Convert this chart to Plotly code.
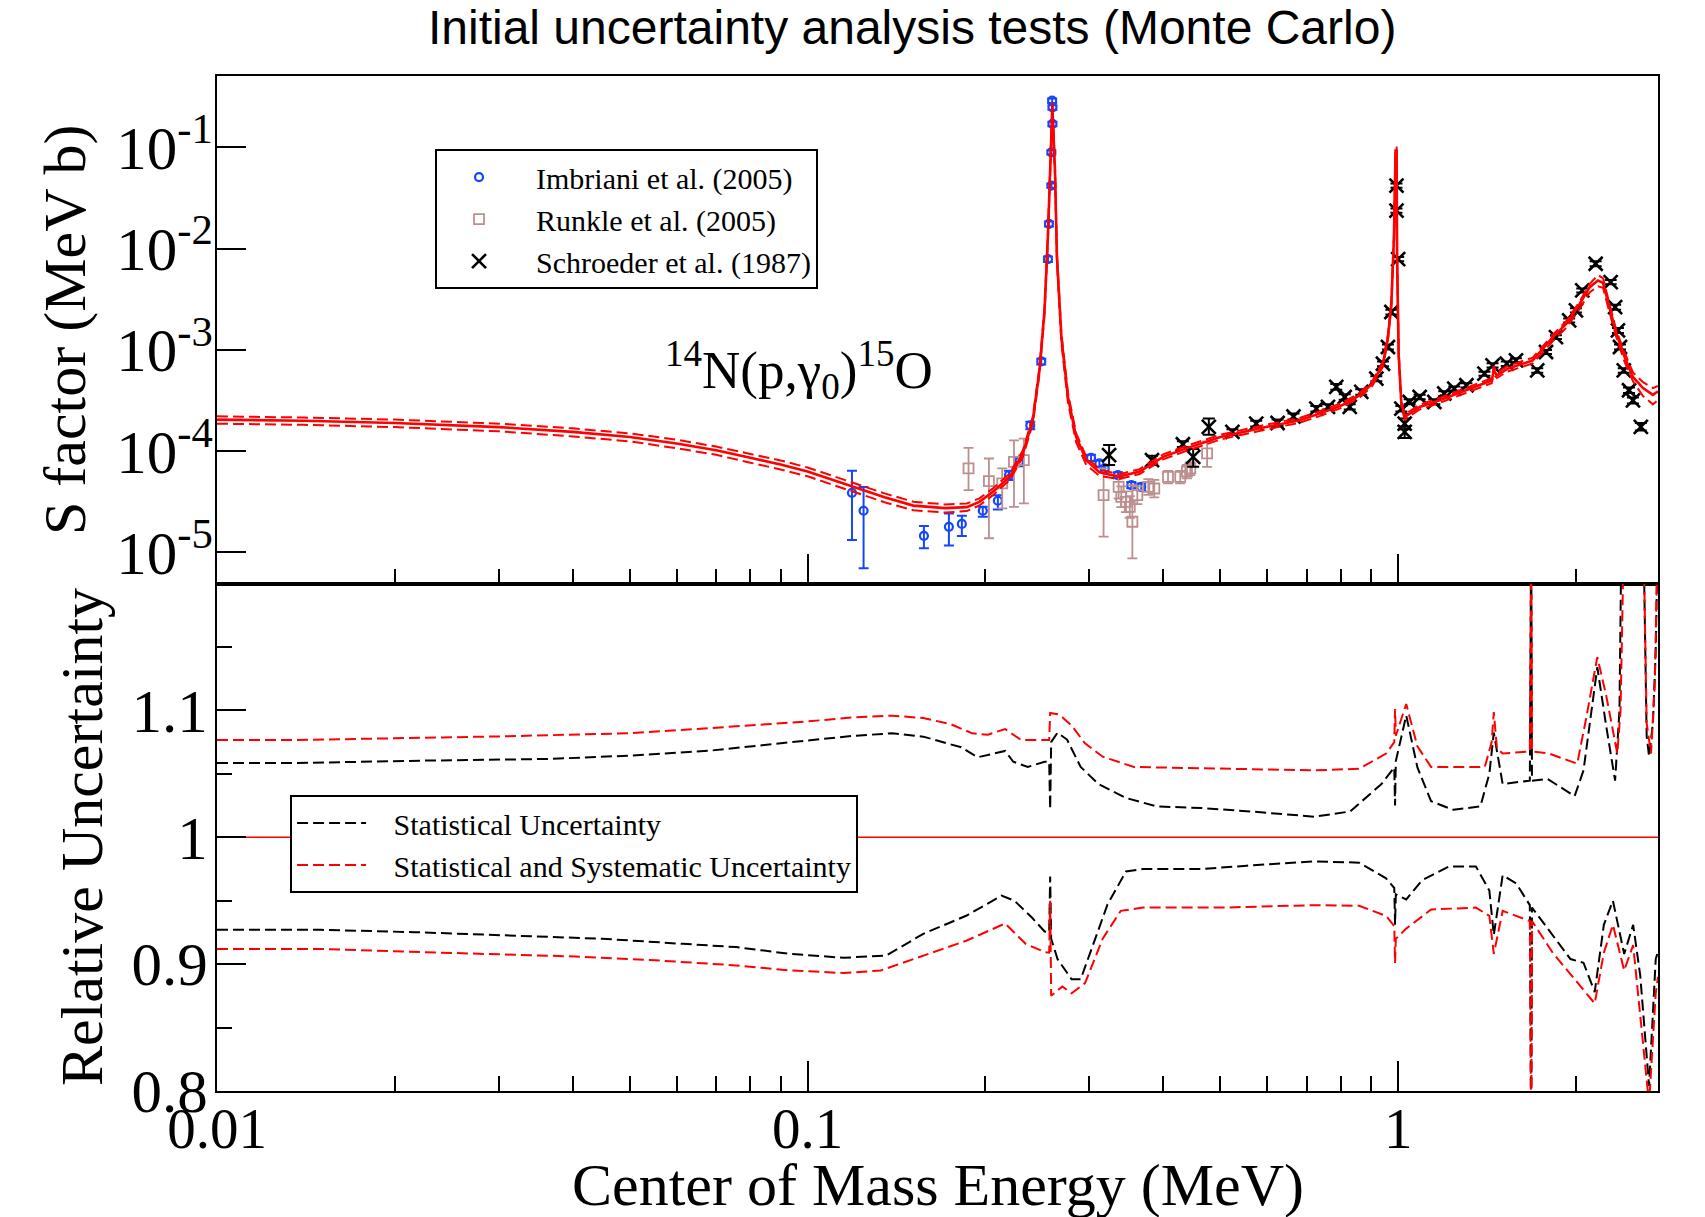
import plotly.graph_objects as go

# ---------------- data ----------------
# R-matrix fit (top panel): energy (MeV), S factor (MeV b), upper / lower band
E_fit = [0.010, 0.014, 0.020, 0.030, 0.040, 0.050, 0.060, 0.070, 0.080, 0.090,
         0.100, 0.1185, 0.135, 0.151, 0.171, 0.186, 0.1954, 0.206, 0.220, 0.2315,
         0.2406, 0.247, 0.2519, 0.2552, 0.2576, 0.2597, 0.2624, 0.2644, 0.269, 0.276,
         0.285, 0.2965, 0.312, 0.3365, 0.365, 0.400, 0.4366, 0.500, 0.600, 0.681,
         0.736, 0.803, 0.8605, 0.904, 0.9425, 0.9611, 0.9739, 0.9838, 0.990, 0.994,
         0.996, 1.002, 1.0126, 1.0257, 1.0459, 1.0875, 1.1755, 1.305, 1.410, 1.440,
         1.452, 1.470, 1.530, 1.690, 1.829, 1.927, 2.030, 2.110, 2.180, 2.223,
         2.280, 2.342, 2.418, 2.498, 2.598, 2.700, 2.754]
S_fit = [2.05e-4, 2.00e-4, 1.90e-4, 1.73e-4, 1.55e-4, 1.38e-4, 1.19e-4, 1.02e-4, 8.6e-5, 7.4e-5,
         6.3e-5, 4.5e-5, 3.5e-5, 2.9e-5, 2.74e-5, 2.8e-5, 3.16e-5, 3.97e-5, 5.58e-5, 9.5e-5,
         2.02e-4, 6.3e-4, 2.46e-3, 1.3e-2, 5.9e-2, 0.26, 5.9e-2, 8.2e-3, 1.34e-3, 3.43e-4,
         1.38e-4, 8.15e-5, 6.2e-5, 5.6e-5, 6.3e-5, 8.8e-5, 1.06e-4, 1.38e-4, 1.74e-4, 2.02e-4,
         2.35e-4, 2.84e-4, 3.57e-4, 4.65e-4, 7.3e-4, 1.34e-3, 2.86e-3, 1.3e-2, 9.3e-2, 9.3e-2,
         8.0e-3, 9.0e-4, 2.95e-4, 2.19e-4, 2.35e-4, 2.73e-4, 3.18e-4, 4.0e-4, 4.82e-4, 5.0e-4,
         6.3e-4, 5.6e-4, 6.5e-4, 7.89e-4, 1.34e-3, 1.82e-3, 2.86e-3, 4.17e-3, 4.85e-3, 4.6e-3,
         2.6e-3, 1.45e-3, 8.5e-4, 5.41e-4, 4.2e-4, 3.6e-4, 3.9e-4]
S_fit_hi = [2.21e-4, 2.15e-4, 2.05e-4, 1.87e-4, 1.68e-4, 1.50e-4, 1.30e-4, 1.11e-4, 9.4e-5, 8.1e-5,
            6.9e-5, 4.92e-5, 3.83e-5, 3.17e-5, 2.98e-5, 3.04e-5, 3.42e-5, 4.29e-5, 6.05e-5, 1.02e-4,
            2.17e-4, 6.78e-4, 2.65e-3, 1.40e-2, 6.4e-2, 0.28, 6.4e-2, 8.9e-3, 1.46e-3, 3.75e-4,
            1.50e-4, 8.8e-5, 6.6e-5, 5.9e-5, 6.65e-5, 9.3e-5, 1.12e-4, 1.455e-4, 1.835e-4, 2.13e-4,
            2.48e-4, 3.0e-4, 3.76e-4, 4.9e-4, 7.75e-4, 1.42e-3, 3.03e-3, 1.4e-2, 0.1, 0.1,
            8.6e-3, 9.8e-4, 3.15e-4, 2.32e-4, 2.48e-4, 2.88e-4, 3.36e-4, 4.22e-4, 5.08e-4, 5.25e-4,
            6.9e-4, 5.95e-4, 6.9e-4, 8.4e-4, 1.42e-3, 1.93e-3, 3.02e-3, 4.5e-3, 5.5e-3, 5.1e-3,
            2.85e-3, 1.55e-3, 9.4e-4, 6.0e-4, 4.8e-4, 4.2e-4, 4.4e-4]
S_fit_lo = [1.87e-4, 1.82e-4, 1.73e-4, 1.57e-4, 1.40e-4, 1.25e-4, 1.07e-4, 9.2e-5, 7.7e-5, 6.6e-5,
            5.65e-5, 4.02e-5, 3.13e-5, 2.61e-5, 2.48e-5, 2.56e-5, 2.91e-5, 3.68e-5, 5.2e-5, 8.75e-5,
            1.86e-4, 5.8e-4, 2.25e-3, 1.19e-2, 5.3e-2, 0.235, 5.2e-2, 7.3e-3, 1.18e-3, 3.02e-4,
            1.22e-4, 7.3e-5, 5.7e-5, 5.3e-5, 5.95e-5, 8.3e-5, 1.0e-4, 1.305e-4, 1.645e-4, 1.91e-4,
            2.22e-4, 2.69e-4, 3.38e-4, 4.4e-4, 6.85e-4, 1.26e-3, 2.68e-3, 1.2e-2, 0.086, 0.086,
            7.4e-3, 8.4e-4, 2.75e-4, 2.06e-4, 2.22e-4, 2.58e-4, 3.0e-4, 3.78e-4, 4.55e-4, 4.7e-4,
            5.7e-4, 5.28e-4, 6.1e-4, 7.35e-4, 1.23e-3, 1.66e-3, 2.55e-3, 3.7e-3, 4.25e-3, 4.1e-3,
            2.35e-3, 1.32e-3, 7.6e-4, 4.9e-4, 3.5e-4, 2.9e-4, 3.2e-4]

# Imbriani et al. (2005): E, S, upper error end, lower error end
E_imb = [0.1189, 0.1244, 0.1574, 0.1735, 0.1825, 0.198, 0.210, 0.2193, 0.228, 0.2383,
         0.2487, 0.2553, 0.2563, 0.2587, 0.2587, 0.2598, 0.2598, 0.2595,
         0.302, 0.312, 0.3185, 0.3354, 0.3533, 0.3673]
S_imb = [3.88e-5, 2.58e-5, 1.46e-5, 1.79e-5, 1.91e-5, 2.58e-5, 3.24e-5, 5.8e-5, 7.85e-5, 1.8e-4,
         7.7e-4, 7.9e-3, 0.0176, 0.042, 0.0895, 0.171, 0.249, 0.29,
         8.6e-5, 7.57e-5, 6.75e-5, 5.8e-5, 4.62e-5, 4.45e-5]
S_imb_hi = [6.4e-5, 4.44e-5, 1.82e-5, 2.43e-5, 2.30e-5, 2.82e-5, 3.68e-5, 6.4e-5, 8.6e-5, 1.95e-4,
            8.2e-4, 8.4e-3, 0.0186, 0.044, 0.094, 0.18, 0.262, 0.305,
            9.2e-5, 8.1e-5, 7.2e-5, 6.2e-5, 4.95e-5, 4.8e-5]
S_imb_lo = [1.33e-5, 6.96e-6, 1.10e-5, 1.17e-5, 1.45e-5, 2.25e-5, 2.66e-5, 5.2e-5, 7.1e-5, 1.65e-4,
            7.2e-4, 7.4e-3, 0.0166, 0.040, 0.085, 0.162, 0.236, 0.275,
            8.0e-5, 7.0e-5, 6.3e-5, 5.4e-5, 4.3e-5, 4.1e-5]

# Runkle et al. (2005)
E_run = [0.1873, 0.2028, 0.2136, 0.2236, 0.2324, 0.3171, 0.3363, 0.3398, 0.346, 0.3512,
         0.3548, 0.3617, 0.3775, 0.3864, 0.4077, 0.4276, 0.4389, 0.4447, 0.4748]
S_run = [6.75e-5, 5.06e-5, 4.8e-5, 7.85e-5, 8.15e-5, 3.68e-5, 4.45e-5, 3.54e-5, 3.16e-5, 2.82e-5,
         2.01e-5, 3.68e-5, 4.45e-5, 4.28e-5, 5.58e-5, 5.58e-5, 6.3e-5, 6.75e-5, 9.5e-5]
S_run_hi = [1.08e-4, 8.47e-5, 6.75e-5, 1.28e-4, 1.33e-4, 6.75e-5, 5.8e-5, 4.5e-5, 4.0e-5, 3.6e-5,
            4.62e-5, 4.5e-5, 5.3e-5, 5.2e-5, 6.4e-5, 6.4e-5, 7.3e-5, 7.8e-5, 1.25e-4]
S_run_lo = [4.12e-5, 1.38e-5, 2.72e-5, 2.82e-5, 3.05e-5, 1.43e-5, 3.41e-5, 2.8e-5, 2.5e-5, 2.2e-5,
            8.75e-6, 3.0e-5, 3.7e-5, 3.5e-5, 4.8e-5, 4.8e-5, 5.4e-5, 5.8e-5, 7.0e-5]

# Schroeder et al. (1987)
E_sch = [0.324, 0.383, 0.432, 0.4497, 0.478, 0.524, 0.575, 0.625, 0.665, 0.727,
         0.7606, 0.7857, 0.812, 0.828, 0.866, 0.9185, 0.9425, 0.961, 0.974, 0.9935,
         0.9935, 1.000, 1.0126, 1.0257, 1.0257, 1.0459, 1.0875, 1.1515, 1.197, 1.2446,
         1.305, 1.400, 1.445, 1.5275, 1.583, 1.720, 1.780, 1.850, 1.948, 2.000,
         2.050, 2.160, 2.290, 2.330, 2.356, 2.375, 2.410, 2.460, 2.498, 2.576]
S_sch = [9.14e-5, 8.15e-5, 1.17e-4, 8.8e-5, 1.74e-4, 1.55e-4, 1.87e-4, 1.9e-4, 2.2e-4, 2.63e-4,
         2.74e-4, 4.31e-4, 3.43e-4, 2.74e-4, 3.85e-4, 5.21e-4, 7.3e-4, 1.07e-3, 2.37e-3, 0.042,
         0.0238, 7.9e-3, 2.63e-4, 1.87e-4, 1.55e-4, 3.06e-4, 3.43e-4, 3.06e-4, 3.71e-4, 4.15e-4,
         4.48e-4, 5.83e-4, 7.05e-4, 7.33e-4, 7.89e-4, 6.29e-4, 9.55e-4, 1.34e-3, 1.96e-3, 2.46e-3,
         3.87e-3, 7.1e-3, 4.68e-3, 2.65e-3, 1.56e-3, 1.07e-3, 6.29e-4, 4.0e-4, 3.18e-4, 1.74e-4]
S_sch_hi = [1.15e-4, 9.0e-5, 1.25e-4, 1.05e-4, 2.1e-4, 1.65e-4, 2.0e-4, 2.05e-4, 2.35e-4, 2.8e-4,
            2.9e-4, 4.6e-4, 3.65e-4, 2.9e-4, 4.1e-4, 5.5e-4, 7.7e-4, 1.13e-3, 2.5e-3, 0.044,
            0.025, 8.3e-3, 2.8e-4, 2.1e-4, 1.75e-4, 3.25e-4, 3.6e-4, 3.25e-4, 3.9e-4, 4.35e-4,
            4.7e-4, 6.1e-4, 7.4e-4, 7.7e-4, 8.3e-4, 6.6e-4, 1.0e-3, 1.4e-3, 2.05e-3, 2.58e-3,
            4.05e-3, 7.5e-3, 4.9e-3, 2.8e-3, 1.65e-3, 1.13e-3, 6.6e-4, 4.25e-4, 3.4e-4, 1.9e-4]
S_sch_lo = [7.3e-5, 7.3e-5, 1.1e-4, 7.0e-5, 1.45e-4, 1.45e-4, 1.75e-4, 1.78e-4, 2.05e-4, 2.47e-4,
            2.58e-4, 4.05e-4, 3.22e-4, 2.58e-4, 3.6e-4, 4.9e-4, 6.9e-4, 1.01e-3, 2.24e-3, 0.040,
            0.0226, 7.5e-3, 2.46e-4, 1.65e-4, 1.35e-4, 2.9e-4, 3.25e-4, 2.9e-4, 3.5e-4, 3.95e-4,
            4.25e-4, 5.55e-4, 6.7e-4, 6.95e-4, 7.5e-4, 5.95e-4, 9.1e-4, 1.28e-3, 1.87e-3, 2.34e-3,
            3.7e-3, 6.7e-3, 4.45e-3, 2.5e-3, 1.47e-3, 1.01e-3, 5.95e-4, 3.75e-4, 2.95e-4, 1.6e-4]

# Relative uncertainty (bottom panel)
E_unity = [0.010, 2.754]
R_unity = [1.0, 1.0]

E_stat_up = [0.010, 0.0135, 0.0225, 0.0364, 0.0498, 0.0682, 0.0933, 0.120, 0.139, 0.157,
             0.182, 0.194, 0.216, 0.223, 0.236, 0.252, 0.2565, 0.2575, 0.2585, 0.265,
             0.275, 0.290, 0.311, 0.346, 0.390, 0.465, 0.564, 0.721, 0.829, 0.937,
             0.985, 0.988, 0.991, 1.032, 1.078, 1.137, 1.240, 1.378, 1.427, 1.452,
             1.503, 1.671, 1.680, 1.685, 1.790, 1.922, 1.990, 2.060, 2.174, 2.250,
             2.330, 2.370, 2.390, 2.600, 2.635, 2.660, 2.700, 2.730, 2.754]
R_stat_up = [1.0585, 1.0585, 1.0604, 1.0617, 1.0643, 1.0682, 1.0748, 1.080, 1.0819, 1.0793,
             1.0709, 1.063, 1.068, 1.0595, 1.0554, 1.0595, 1.0595, 1.022, 1.075, 1.0824,
             1.077, 1.0554, 1.0419, 1.031, 1.0243, 1.023, 1.0203, 1.0162, 1.0203, 1.0419,
             1.055, 1.025, 1.060, 1.096, 1.055, 1.0284, 1.0216, 1.0243, 1.050, 1.0824,
             1.042, 1.0446, 1.25, 1.0446, 1.046, 1.0365, 1.0324, 1.0527, 1.134, 1.088,
             1.0446, 1.10, 1.25, 1.25, 1.08, 1.0635, 1.09, 1.147, 1.25]

E_tot_up = [0.010, 0.0135, 0.0301, 0.0498, 0.0757, 0.100, 0.120, 0.139, 0.157, 0.175,
            0.190, 0.202, 0.216, 0.230, 0.252, 0.2565, 0.2575, 0.265, 0.270, 0.280,
            0.295, 0.316, 0.357, 0.5075, 0.721, 0.859, 0.954, 0.985, 0.988, 0.991,
            1.032, 1.078, 1.137, 1.402, 1.440, 1.452, 1.470, 1.503, 1.671, 1.680,
            1.685, 1.800, 1.922, 2.010, 2.080, 2.174, 2.250, 2.350, 2.380, 2.414,
            2.600, 2.635, 2.680, 2.720, 2.754]
R_tot_up = [1.0766, 1.0766, 1.0795, 1.0819, 1.0874, 1.0913, 1.0945, 1.0958, 1.094, 1.089,
            1.0819, 1.0808, 1.0853, 1.0766, 1.0766, 1.0766, 1.098, 1.097, 1.0946, 1.088,
            1.074, 1.0635, 1.0554, 1.054, 1.0527, 1.054, 1.066, 1.075, 1.101, 1.080,
            1.105, 1.0716, 1.0554, 1.0554, 1.075, 1.0986, 1.070, 1.066, 1.0676, 1.25,
            1.0676, 1.066, 1.061, 1.058, 1.093, 1.142, 1.112, 1.066, 1.10, 1.25,
            1.25, 1.09, 1.066, 1.12, 1.25]

E_stat_lo = [0.010, 0.0150, 0.0216, 0.0314, 0.0449, 0.0615, 0.0757, 0.0933, 0.115, 0.136,
             0.157, 0.186, 0.213, 0.224, 0.240, 0.252, 0.2565, 0.2575, 0.2585, 0.265,
             0.280, 0.290, 0.306, 0.322, 0.346, 0.370, 0.465, 0.554, 0.721, 0.859,
             0.954, 0.985, 0.988, 0.991, 1.032, 1.097, 1.219, 1.354, 1.427, 1.452,
             1.503, 1.585, 1.671, 1.680, 1.685, 1.827, 1.958, 2.060, 2.152, 2.230,
             2.310, 2.414, 2.500, 2.570, 2.660, 2.730, 2.754]
R_stat_lo = [0.927, 0.927, 0.9252, 0.9226, 0.920, 0.916, 0.9134, 0.9081, 0.905, 0.9068,
             0.9239, 0.9383, 0.954, 0.950, 0.9365, 0.9257, 0.925, 0.969, 0.920, 0.904,
             0.888, 0.888, 0.9176, 0.947, 0.973, 0.9749, 0.9749, 0.9776, 0.981, 0.980,
             0.9676, 0.960, 0.931, 0.955, 0.951, 0.966, 0.977, 0.977, 0.958, 0.923,
             0.970, 0.9635, 0.9465, 0.75, 0.9446, 0.923, 0.904, 0.901, 0.878, 0.931,
             0.950, 0.908, 0.931, 0.891, 0.804, 0.904, 0.910]

E_tot_lo = [0.010, 0.0150, 0.0225, 0.0404, 0.0553, 0.0757, 0.0933, 0.115, 0.133, 0.157,
            0.186, 0.216, 0.234, 0.252, 0.2565, 0.2575, 0.2585, 0.270, 0.280, 0.295,
            0.316, 0.339, 0.370, 0.5075, 0.721, 0.859, 0.954, 0.985, 0.988, 0.991,
            1.032, 1.137, 1.354, 1.427, 1.452, 1.503, 1.671, 1.680, 1.685, 1.827,
            1.990, 2.152, 2.230, 2.310, 2.414, 2.500, 2.660, 2.730, 2.754]
R_tot_lo = [0.912, 0.912, 0.9094, 0.906, 0.903, 0.899, 0.895, 0.893, 0.895, 0.9068,
            0.9186, 0.932, 0.916, 0.9095, 0.909, 0.950, 0.875, 0.8824, 0.877, 0.885,
            0.920, 0.942, 0.9446, 0.9446, 0.9465, 0.946, 0.938, 0.930, 0.901, 0.920,
            0.928, 0.943, 0.9446, 0.938, 0.908, 0.942, 0.934, 0.75, 0.934, 0.909,
            0.888, 0.869, 0.909, 0.931, 0.895, 0.915, 0.790, 0.877, 0.890]

x_major = [0.01, 0.1, 1]
x_major_text = ["0.01", "0.1", "1"]
x_minor = [0.02, 0.03, 0.04, 0.05, 0.06, 0.07, 0.08, 0.09,
           0.2, 0.3, 0.4, 0.5, 0.6, 0.7, 0.8, 0.9, 2]
s_major = [1e-5, 1e-4, 1e-3, 1e-2, 1e-1]
s_major_text = ["10<sup>-5</sup>", "10<sup>-4</sup>", "10<sup>-3</sup>",
                "10<sup>-2</sup>", "10<sup>-1</sup>"]
r_major = [0.8, 0.9, 1.0, 1.1, 1.2]
r_major_text = ["0.8", "0.9", "1", "1.1", ""]
r_minor = [0.85, 0.95, 1.05, 1.15]

# ---------------- figure ----------------
SERIF = "Liberation Serif"
RED = "#ff0000"
BLUE = "#1446ff"
ROSY = "#bc8f8f"
PAD2 = "\u00a0\u00a0"
PAD3 = "\u00a0\u00a0\u00a0"


def errs(y, hi, lo):
    return [h - v for v, h in zip(y, hi)], [v - l for v, l in zip(y, lo)]


fig = go.Figure()

up, dn = errs(S_imb, S_imb_hi, S_imb_lo)
fig.add_trace(go.Scatter(
    x=E_imb, y=S_imb, mode="markers", name=PAD2 + "Imbriani et al. (2005)",
    marker=dict(symbol="circle-open", size=8, color=BLUE, line=dict(width=2.2, color=BLUE)),
    error_y=dict(type="data", symmetric=False, array=up, arrayminus=dn,
                 color=BLUE, thickness=2, width=5),
    xaxis="x", yaxis="y", legend="legend"))

up, dn = errs(S_run, S_run_hi, S_run_lo)
fig.add_trace(go.Scatter(
    x=E_run, y=S_run, mode="markers", name=PAD2 + "Runkle et al. (2005)",
    marker=dict(symbol="square-open", size=10, color=ROSY, line=dict(width=1.8, color=ROSY)),
    error_y=dict(type="data", symmetric=False, array=up, arrayminus=dn,
                 color=ROSY, thickness=1.8, width=5),
    xaxis="x", yaxis="y", legend="legend"))

up, dn = errs(S_sch, S_sch_hi, S_sch_lo)
fig.add_trace(go.Scatter(
    x=E_sch, y=S_sch, mode="markers", name=PAD2 + "Schroeder et al. (1987)",
    marker=dict(symbol="x-thin", size=14, color="black", line=dict(width=2.6, color="black")),
    error_y=dict(type="data", symmetric=False, array=up, arrayminus=dn,
                 color="black", thickness=2, width=6),
    xaxis="x", yaxis="y", legend="legend"))

for ys in (S_fit_hi, S_fit_lo):
    fig.add_trace(go.Scatter(
        x=E_fit, y=ys, mode="lines", showlegend=False,
        line=dict(color=RED, width=2, dash="11px,5px"),
        xaxis="x", yaxis="y"))
fig.add_trace(go.Scatter(
    x=E_fit, y=S_fit, mode="lines", showlegend=False,
    line=dict(color=RED, width=2.6), xaxis="x", yaxis="y"))

# bottom panel
fig.add_trace(go.Scatter(
    x=E_unity, y=R_unity, mode="lines", showlegend=False,
    line=dict(color=RED, width=1.6), xaxis="x2", yaxis="y2"))
fig.add_trace(go.Scatter(
    x=E_stat_up, y=R_stat_up, mode="lines", name=PAD3 + "Statistical Uncertainty",
    legendgroup="stat", line=dict(color="black", width=2, dash="11px,5px"),
    xaxis="x2", yaxis="y2", legend="legend2"))
fig.add_trace(go.Scatter(
    x=E_stat_lo, y=R_stat_lo, mode="lines", showlegend=False,
    legendgroup="stat", line=dict(color="black", width=2, dash="11px,5px"),
    xaxis="x2", yaxis="y2", legend="legend2"))
fig.add_trace(go.Scatter(
    x=E_tot_up, y=R_tot_up, mode="lines",
    name=PAD3 + "Statistical and Systematic Uncertainty",
    legendgroup="tot", line=dict(color=RED, width=2, dash="11px,5px"),
    xaxis="x2", yaxis="y2", legend="legend2"))
fig.add_trace(go.Scatter(
    x=E_tot_lo, y=R_tot_lo, mode="lines", showlegend=False,
    legendgroup="tot", line=dict(color=RED, width=2, dash="11px,5px"),
    xaxis="x2", yaxis="y2", legend="legend2"))

xtickfont = dict(family=SERIF, size=57, color="black")
ytickfont = dict(family=SERIF, size=61, color="black")
common_x = dict(type="log", range=[-2, 0.44], showgrid=False, zeroline=False,
                showline=True, linecolor="black", linewidth=2, mirror=True,
                tickmode="array", tickvals=x_major, ticktext=x_major_text,
                ticks="inside", ticklen=30, tickwidth=2, tickcolor="black",
                minor=dict(tickmode="array", tickvals=x_minor, ticks="inside",
                           ticklen=15, tickwidth=2, tickcolor="black", showgrid=False),
                tickfont=xtickfont)

fig.update_layout(
    width=1705, height=1217,
    margin=dict(l=217, r=47, t=76, b=126),
    paper_bgcolor="white", plot_bgcolor="white",
    title=dict(text="Initial uncertainty analysis tests (Monte Carlo)",
               font=dict(family="Liberation Sans", size=48, color="black"),
               x=0.535, xanchor="center", xref="container",
               y=0.978, yanchor="middle", yref="container"),
    xaxis=dict(**common_x, domain=[0, 1], anchor="y", showticklabels=False),
    xaxis2=dict(**common_x, domain=[0, 1], anchor="y2", matches="x",
                ticklabelstandoff=-13),
    yaxis=dict(type="log", range=[-5.307, -0.294], domain=[0.5, 1], anchor="x",
               showgrid=False, zeroline=False, showline=True, linecolor="black",
               linewidth=2, mirror=True, tickmode="array", tickvals=s_major,
               ticktext=s_major_text, ticks="inside", ticklen=29, tickwidth=2,
               tickcolor="black", tickfont=ytickfont, ticklabelstandoff=-10),
    yaxis2=dict(range=[0.8, 1.2], domain=[0, 0.5], anchor="x2",
                showgrid=False, zeroline=False, showline=True, linecolor="black",
                linewidth=2, mirror=True, tickmode="array", tickvals=r_major,
                ticktext=r_major_text, ticks="inside", ticklen=29, tickwidth=2,
                tickcolor="black", tickfont=ytickfont, ticklabelstandoff=-5,
                minor=dict(tickmode="array", tickvals=r_minor, ticks="inside",
                           ticklen=15, tickwidth=2, tickcolor="black", showgrid=False)),
    legend=dict(x=0.1513, y=0.928, xanchor="left", yanchor="top",
                bgcolor="white", bordercolor="black", borderwidth=2,
                font=dict(family=SERIF, size=30, color="black"),
                itemwidth=74, tracegroupgap=0),
    legend2=dict(x=0.0507, y=0.2916, xanchor="left", yanchor="top",
                 bgcolor="white", bordercolor="black", borderwidth=2,
                 font=dict(family=SERIF, size=30, color="black"),
                 itemwidth=69, tracegroupgap=0),
    annotations=[
        dict(text="S factor (MeV b)", textangle=-90, xref="paper", yref="paper",
             x=-0.1055, y=0.7497, xanchor="center", yanchor="middle", showarrow=False,
             font=dict(family=SERIF, size=60, color="black")),
        dict(text="Relative Uncertainty", textangle=-90, xref="paper", yref="paper",
             x=-0.0937, y=0.2502, xanchor="center", yanchor="middle", showarrow=False,
             font=dict(family=SERIF, size=60, color="black")),
        dict(text="Center of Mass Energy (MeV)", xref="paper", yref="paper",
             x=0.5, y=-0.0925, xanchor="center", yanchor="middle", showarrow=False,
             font=dict(family=SERIF, size=60, color="black")),
        dict(text="<sup>14</sup>N(p,γ<sub>0</sub>)<sup>15</sup>O", xref="paper", yref="paper",
             x=0.404, y=0.710, xanchor="center", yanchor="middle", showarrow=False,
             font=dict(family=SERIF, size=53, color="black")),
    ],
)

fig.write_html("out.html")
